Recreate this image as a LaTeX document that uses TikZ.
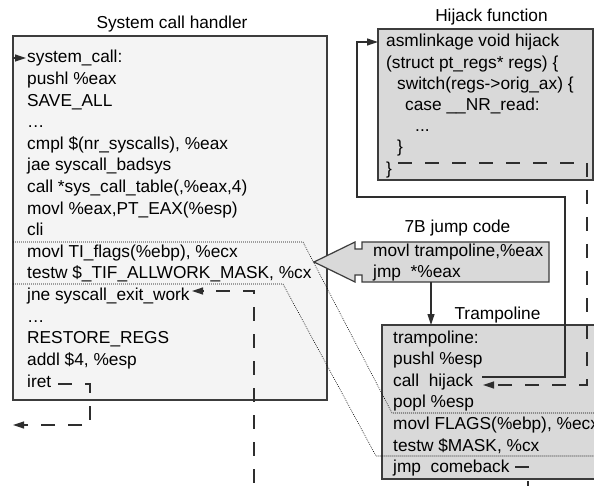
\documentclass[tikz,border=0pt]{standalone}
\usepackage{fontspec}
\setmainfont{Liberation Sans}
\usetikzlibrary{arrows.meta}
\definecolor{boxline}{HTML}{3C3C3C}
\definecolor{lightfill}{HTML}{F4F4F4}
\definecolor{grayfill}{HTML}{D9D9D9}
\definecolor{conncol}{HTML}{2E2E2E}
\begin{document}
\begin{tikzpicture}[x=1pt,y=-1pt,
  txt/.style={anchor=base west, inner sep=0pt, font=\fontsize{17.3pt}{20pt}\selectfont, text=black},
  ttl/.style={anchor=base, inner sep=0pt, font=\fontsize{17.3pt}{20pt}\selectfont, text=black},
  boxst/.style={draw=boxline, line width=1.2pt},
  sconn/.style={draw=conncol, line width=1.2pt},
  dconn/.style={draw=conncol, line width=1.2pt, dash pattern=on 14pt off 13pt},
  dotl/.style={draw=black, line width=0.6pt, dash pattern=on 0.8pt off 1.2pt},
  tipr/.style={-{Triangle[length=11pt,width=7pt]}},
  tipl/.style={{Triangle[length=11pt,width=7pt]}-}
]
\useasboundingbox (0,0) rectangle (594,486);
\clip (0,0) rectangle (594,486);
\fill[white] (0,0) rectangle (594,486);

% boxes
\draw[boxst, fill=lightfill] (13,36) rectangle (327,400);
\draw[boxst, fill=grayfill] (378,29) rectangle (593,180);
\draw[boxst, fill=grayfill] (314,262) -- (355,242) -- (355,249) -- (362,249) -- (362,242)
  -- (549,242) -- (549,282) -- (362,282) -- (362,275) -- (355,275) -- (355,282) -- cycle;
\draw[boxst, fill=grayfill] (382,325) rectangle (610,479);

% titles
\node[ttl] (tsys) at (172,28.5) {System call handler};
\node[ttl] (thij) at (491.5,21.7) {Hijack function};
\node[ttl] (tjmp) at (457.5,233) {7B jump code};
\node[ttl] (ttra) at (497.5,319) {Trampoline};

% system call handler text
\node[txt] (l1) at (27,63) {system\_call:};
\node[txt] (l2) at (27,84.6) {pushl \%eax};
\node[txt] (l3) at (27,106.2) {SAVE\_ALL};
\node[txt] (l4) at (27,127.8) {…};
\node[txt] (l5) at (27,149.4) {cmpl \$(nr\_syscalls), \%eax};
\node[txt] (l6) at (27,171) {jae syscall\_badsys};
\node[txt] (l7) at (27,192.6) {call *sys\_call\_table(,\%eax,4)};
\node[txt] (l8) at (27,214.2) {movl \%eax,PT\_EAX(\%esp)};
\node[txt] (l9) at (27,235.8) {cli};
\node[txt] (l10) at (27,257.4) {movl TI\_flags(\%ebp), \%ecx};
\node[txt] (l11) at (27,279) {testw \$\_TIF\_ALLWORK\_MASK, \%cx};
\node[txt] (l12) at (27,300.6) {jne syscall\_exit\_work};
\node[txt] (l13) at (27,322.2) {…};
\node[txt] (l14) at (27,343.8) {RESTORE\_REGS};
\node[txt] (l15) at (27,365.4) {addl \$4, \%esp};
\node[txt] (l16) at (27,387) {iret};

% hijack function text
\node[txt] (h1) at (386,47) {asmlinkage void hijack};
\node[txt] (h2) at (386,68.2) {(struct pt\_regs* regs) \{};
\node[txt] (h3) at (397,89.4) {switch(regs->orig\_ax) \{};
\node[txt] (h4) at (405,110.6) {case \_\_NR\_read:};
\node[txt] (h5) at (415,131.8) {...};
\node[txt] (h6) at (397,153) {\}};
\node[txt] (h7) at (386,174.2) {\}};

% jump code text
\node[txt] (j1) at (373,257) {movl trampoline,\%eax};
\node[txt] (j2) at (373,278) {jmp\ \ *\%eax};

% trampoline text
\node[txt] (r1) at (393,343) {trampoline:};
\node[txt] (r2) at (393,364.6) {pushl \%esp};
\node[txt] (r3) at (393,386.2) {call\ \ hijack};
\node[txt] (r4) at (393,407.8) {popl \%esp};
\node[txt] (r5) at (393,429.4) {movl FLAGS(\%ebp), \%ecx};
\node[txt] (r6) at (393,451) {testw \$MASK, \%cx};
\node[txt] (r7) at (393,472.6) {jmp\ \ comeback};

% connector end points
\coordinate (scin) at (13,58);
\coordinate (scout) at (26,58);
\coordinate (jnetip) at (192,291);
\coordinate (jnebot) at (254,492);
\coordinate (iretA) at (58,384);
\coordinate (iretB) at (13,425);
\coordinate (jcbot) at (431,282);
\coordinate (trtop) at (431,325);
\coordinate (callA) at (482,377);
\coordinate (hjin) at (378,42);
\coordinate (hjret) at (398,163);
\coordinate (calltip) at (483,385);
\coordinate (cbA) at (515,467);
\coordinate (cbB) at (528,492);

% connectors
\draw[sconn, tipr] (scin) -- (scout);
\draw[dconn, tipl, dash phase=13.5pt] (jnetip) -| (jnebot);
\draw[dconn, tipr] (iretA) -| (90,425) -- (iretB);
\draw[sconn, tipr] (jcbot) -- (trtop);
\draw[sconn, tipr] (callA) -| (565,197) -| (357,42) -- (hjin);
\draw[dconn, tipr] (hjret) -| (587,385) -- (calltip);
\draw[dconn] (cbA) -| (cbB);

% dotted mapping lines
\draw[dotl] (13,242) -- (303,242) -- (392,413) -- (600,413);
\draw[dotl] (13,284) -- (283,284) -- (376,456) -- (600,456);
\end{tikzpicture}
\end{document}
